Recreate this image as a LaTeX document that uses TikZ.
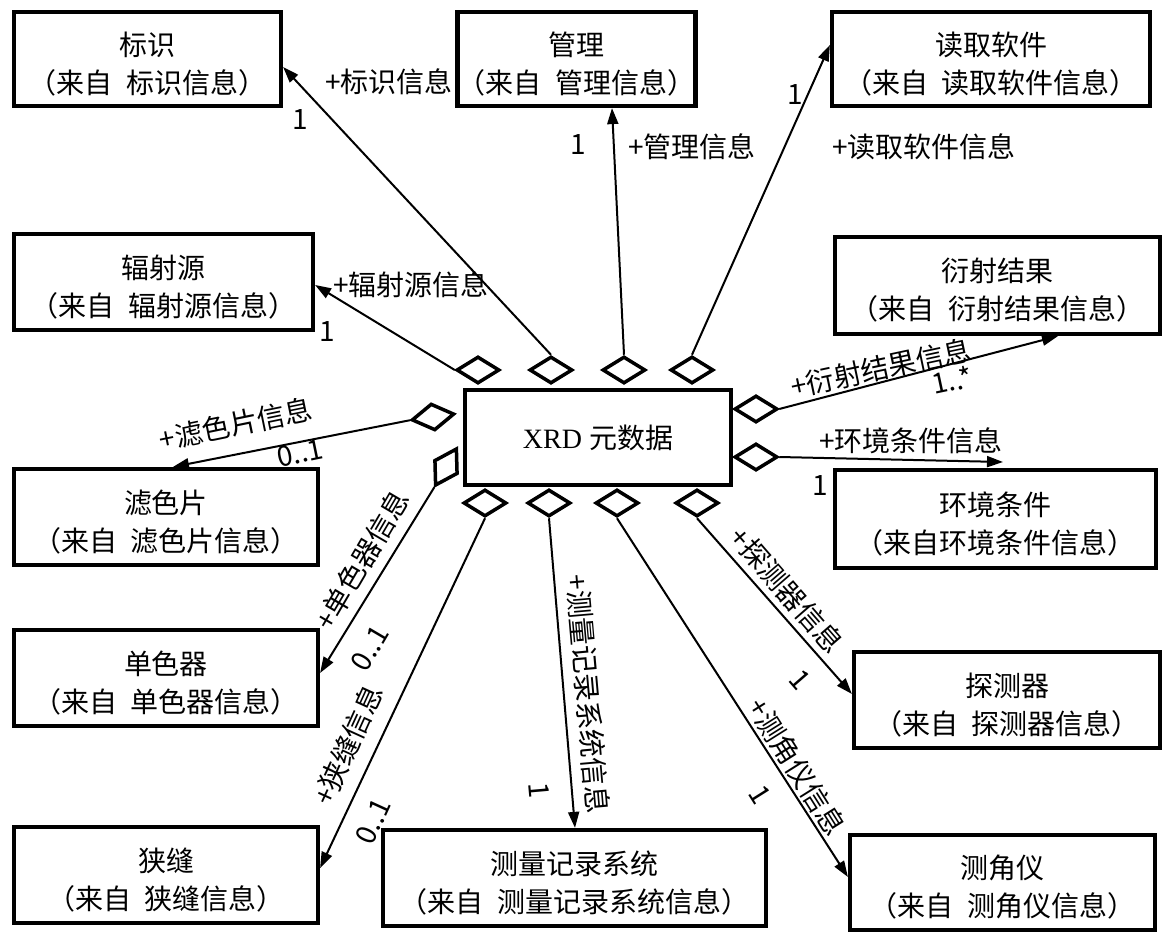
\documentclass[tikz,border=0pt]{standalone}
\usepackage{fontspec}
\setmainfont{Liberation Serif}
\newfontfamily\cjk{Noto Sans CJK SC}
\usetikzlibrary{arrows.meta,shapes.geometric}
\newcommand\tstr{\rule{0pt}{33pt}}
\begin{document}
\begin{tikzpicture}[x=1pt,y=-1pt,
  cls/.style={draw, line width=4.2pt, fill=white, align=center, inner sep=0pt,
    font=\cjk\fontsize{28}{38}\selectfont},
  agg/.style={diamond, draw, line width=3.5pt, fill=white, inner sep=0pt,
    minimum width=43pt, minimum height=27pt},
  assoc/.style={line width=2pt, -{Triangle[length=16pt,width=11pt]}},
  lbl/.style={font=\cjk\fontsize{28}{28}\selectfont, inner sep=0pt}
]
\useasboundingbox[fill=white] (0,0) rectangle (1165,933);

% classes
\node[cls, minimum width=267pt, minimum height=94pt] (biaoshi) at (147.5,59) {\tstr 标识\\（来自\hspace{0.5em}标识信息）};
\node[cls, minimum width=193pt, minimum height=94pt] (guanli) at (576.5,59) {\tstr 管理\\（来自\hspace{0.5em}管理信息）};
\node[cls, minimum width=318pt, minimum height=94pt] (duqu) at (991,59) {\tstr 读取软件\\（来自\hspace{0.5em}读取软件信息）};
\node[cls, minimum width=299pt, minimum height=96pt] (fushe) at (163.5,282) {\tstr 辐射源\\（来自\hspace{0.5em}辐射源信息）};
\node[cls, minimum width=325pt, minimum height=97pt] (yanshe) at (997.5,285.5) {\tstr 衍射结果\\（来自\hspace{0.5em}衍射结果信息）};
\node[cls, minimum width=266pt, minimum height=95pt, font=\fontsize{28}{28}\selectfont] (xrd) at (598,437.5) {XRD {\cjk 元数据}};
\node[cls, minimum width=304pt, minimum height=96pt] (lvse) at (166,517) {\tstr 滤色片\\（来自\hspace{0.5em}滤色片信息）};
\node[cls, minimum width=321pt, minimum height=98pt] (huanjing) at (995.5,519) {\tstr 环境条件\\（来自环境条件信息）};
\node[cls, minimum width=304pt, minimum height=96pt] (danse) at (166,678) {\tstr 单色器\\（来自\hspace{0.5em}单色器信息）};
\node[cls, minimum width=306pt, minimum height=96pt] (tance) at (1007,700) {\tstr 探测器\\（来自\hspace{0.5em}探测器信息）};
\node[cls, minimum width=304pt, minimum height=96pt] (xiafeng) at (166,875) {\tstr 狭缝\\（来自\hspace{0.5em}狭缝信息）};
\node[cls, minimum width=383pt, minimum height=96pt] (celiang) at (574.5,878) {\tstr 测量记录系统\\（来自\hspace{0.5em}测量记录系统信息）};
\node[cls, minimum width=305pt, minimum height=95pt] (cejiao) at (1002.5,882.5) {\tstr 测角仪\\（来自\hspace{0.5em}测角仪信息）};

% aggregation diamonds
\node[agg] (dfs) at (478,370) {};
\node[agg] (dbs) at (551,370) {};
\node[agg] (dgl) at (624,370) {};
\node[agg] (ddq) at (692,370) {};
\node[agg] (dys) at (756,409) {};
\node[agg] (dhj) at (756,457) {};
\node[agg, rotate=8] (dlv) at (433,417) {};
\node[agg, rotate=60] (dds) at (446,467) {};
\node[agg] (dxf) at (485,503) {};
\node[agg] (dcl) at (549,503) {};
\node[agg] (dcj) at (617,503) {};
\node[agg] (dtc) at (697,503) {};

\coordinate (hjend) at (1003,462);

% connectors
\draw[assoc] (dfs.west) -- (fushe.east |- 0,285);
\draw[assoc] (dbs.north) -- (biaoshi.east |- 0,67);
\draw[assoc] (dgl.north) -- (guanli.south -| 612,0);
\draw[assoc] (ddq.north) -- (duqu.west |- 0,45);
\draw[assoc] (dys.east) -- (yanshe.south -| 1058,0);
\draw[assoc] (dhj.east) -- (hjend);
\draw[assoc] (dlv.west) -- (lvse.north -| 173,0);
\draw[assoc] (dds.west) -- (danse.east |- 0,673);
\draw[assoc] (dxf.south) -- (xiafeng.east |- 0,868);
\draw[assoc] (dcl.south) -- (celiang.north -| 575,0);
\draw[assoc] (dcj.south) -- (cejiao.west |- 0,877);
\draw[assoc] (dtc.south) -- (tance.west |- 0,694);

% labels
\node[lbl] (lbs) at (389,82) {+标识信息};
\node[lbl] (mbs) at (300,120) {1};
\node[lbl] (lgl) at (692,147) {+管理信息};
\node[lbl] (mgl) at (578,145) {1};
\node[lbl] (ldq) at (924,147) {+读取软件信息};
\node[lbl] (mdq) at (795,95) {1};
\node[lbl] (lfs) at (411,285) {+辐射源信息};
\node[lbl] (mfs) at (327,332) {1};
\node[lbl, rotate=12] (lys) at (881,368) {+衍射结果信息};
\node[lbl, rotate=12] (mys) at (952,380) {1..*};
\node[lbl] (lhj) at (911,441) {+环境条件信息};
\node[lbl] (mhj) at (820,486) {1};
\node[lbl, rotate=11.6] (llv) at (236,424) {+滤色片信息};
\node[lbl, rotate=11.6] (mlv) at (300,453) {0..1};
\node[lbl, rotate=59.6] (lds) at (362,560) {+单色器信息};
\node[lbl, rotate=59.6] (mds) at (370,648) {0..1};
\node[lbl, rotate=65.5] (lxf) at (348,745) {+狭缝信息};
\node[lbl, rotate=65.5] (mxf) at (373,821) {0..1};
\node[lbl, rotate=-85] (lcl) at (588,694) {+测量记录系统信息};
\node[lbl, rotate=-85] (mcl) at (539,790) {1};
\node[lbl, rotate=-57.8] (lcj) at (797,767) {+测角仪信息};
\node[lbl, rotate=-57.8] (mcj) at (760,795) {1};
\node[lbl, rotate=-49] (ltc) at (787,590) {+探测器信息};
\node[lbl, rotate=-49] (mtc) at (800,680) {1};
\end{tikzpicture}
\end{document}
